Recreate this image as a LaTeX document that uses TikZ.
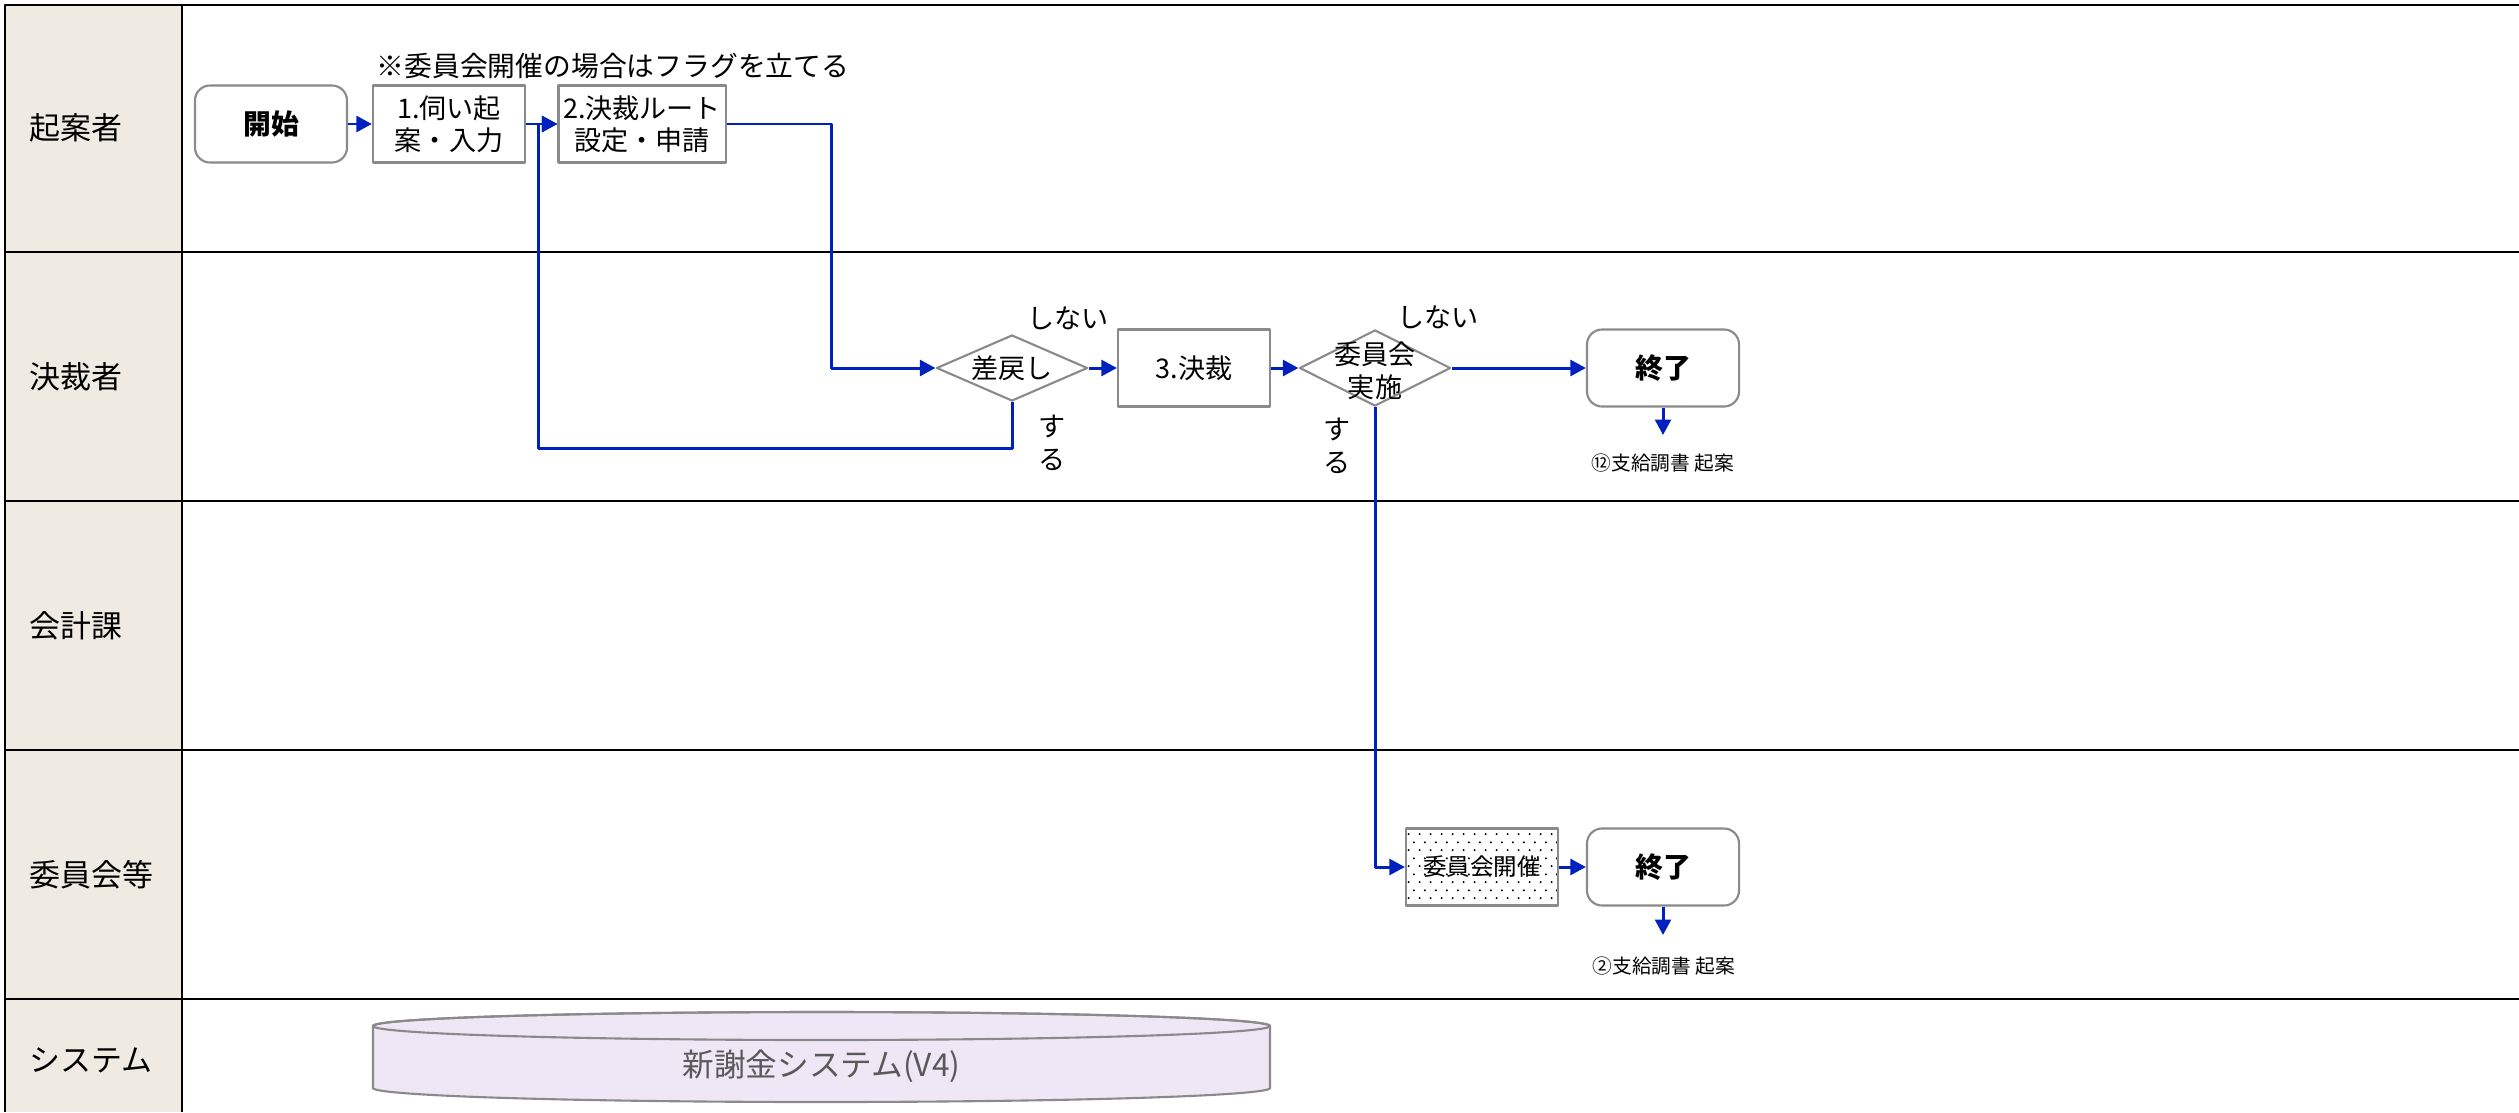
\documentclass[tikz,border=0pt]{standalone}
\usepackage{fontspec}
\newfontfamily\jp{Noto Sans CJK JP}
\usetikzlibrary{shapes.geometric,arrows.meta,patterns.meta}
\definecolor{flowblue}{HTML}{0020C0}
\definecolor{lanebg}{HTML}{EFEBE3}
\definecolor{boxgray}{HTML}{8A8A8A}
\definecolor{sysfill}{HTML}{EFE7F5}
\definecolor{systext}{HTML}{595959}
\tikzdeclarepattern{name=staggerdots, type=uncolored, bounding box={(0pt,0pt) and (3.2pt,4.6pt)}, tile size={(3.2pt,4.6pt)},
	code={\fill (0.8pt,1.15pt) circle (0.33pt); \fill (2.4pt,3.45pt) circle (0.33pt);}}
\tikzset{
	lane/.style={anchor=west, inner sep=0pt, font=\jp\fontsize{8.8}{10.5}\selectfont},
	laneline/.style={line width=0.75pt},
	task/.style={draw=boxgray, fill=white, line width=0.6pt, minimum width=1.52cm, minimum height=0.77cm, inner sep=0pt, align=center, font=\jp\fontsize{7.7}{9.2}\selectfont},
	term/.style={task, rounded corners=4.3pt, font=\jp\bfseries\fontsize{7.9}{9.4}\selectfont},
	decision/.style={draw=boxgray, fill=white, line width=0.6pt, diamond, inner sep=0pt, minimum width=1.51cm, minimum height=0.66cm},
	dectext/.style={inner sep=0pt, align=center, font=\jp\fontsize{7.7}{9.4}\selectfont},
	flow/.style={draw=flowblue, line width=0.85pt, ->},
	output/.style={inner sep=0pt, font=\jp\fontsize{5.6}{7}\selectfont},
}
\begin{document}
\begin{tikzpicture}[x=0.01cm, y=-0.01cm, font=\jp, line join=round, >={Triangle[length=4.4pt,width=4.5pt]}]
	\useasboundingbox (0,0) rectangle (2519,1112);
	% lanes
	\fill[lanebg] (5,5) rectangle (182,1112);
	\draw[laneline] (2519,5) -- (5,5) -- (5,1112);
	\draw[laneline] (182,5) -- (182,1112);
	\foreach \y in {252,501,750,999} \draw[laneline] (5,\y) -- (2519,\y);
	\foreach \n/\y/\t in {a/128/起案者, b/377/決裁者, c/626/会計課, d/875/委員会等, e/1060/システム}
		\node[lane] (lane\n) at (29,\y) {\t};
	% nodes
	\node[term] (start) at (271,124) {開始};
	\node[task] (task1) at (449,124) {1.伺い起\\案・入力};
	\node[task, minimum width=1.67cm] (task2) at (642,124) {2.決裁ルート\\設定・申請};
	\node[font=\jp\fontsize{7.9}{9.4}\selectfont] (flag) at (613,66) {※委員会開催の場合はフラグを立てる};
	\node[decision] (sendback) at (1012,368) {};
	\node[dectext] (sendbacktxt) at (sendback) {差戻し};
	\node[task] (decide) at (1194,368) {3.決裁};
	\node[decision, minimum height=0.76cm] (committee) at (1375,368) {};
	\node[dectext] (committeetxt) at (1375,371) {委員会\\実施};
	\node[term] (end1) at (1663,368) {終了};
	\node[output] (out1) at (1663,463) {⑫支給調書 起案};
	\node[task, pattern=staggerdots, font=\jp\fontsize{6.7}{8}\selectfont] (meeting) at (1482,867) {委員会開催};
	\node[term] (end2) at (1663,867) {終了};
	\node[output] (out2) at (1664,966) {②支給調書 起案};
	% branch labels
	\node[dectext] (no1) at (1068,318) {しない};
	\node[dectext] (yes1) at (1052,443) {す\\る};
	\node[dectext] (no2) at (1438,317) {しない};
	\node[dectext] (yes2) at (1337,446) {す\\る};
	% system
	\fill[sysfill, draw=boxgray, line width=0.6pt] (373,1026) -- (373,1088) arc[start angle=180, end angle=0, x radius=448.5, y radius=14] -- (1270,1026) arc[start angle=0, end angle=-180, x radius=448.5, y radius=14] -- cycle;
	\draw[boxgray, line width=0.6pt] (821.5,1026) ellipse [x radius=448.5, y radius=14];
	\node[systext, font=\jp\fontsize{9}{11}\selectfont] (system) at (821.5,1066) {新謝金システム(V4)};
	% flows
	\path
	(831,368) coordinate (turnA)
	(538,448) coordinate (turnB)
	(1663,435) coordinate (out1tip)
	(1663,935) coordinate (out2tip)
	;
	\draw[flow] (start) -- (task1);
	\draw[flow] (task1) -- (task2);
	\draw[flow] (task2.east) -| (turnA) -- (sendback.west);
	\draw[flow] (sendback.south) |- (turnB) |- (task2.west);
	\draw[flow] (sendback) -- (decide);
	\draw[flow] (decide) -- (committee);
	\draw[flow] (committee) -- (end1);
	\draw[flow] (committee.south) |- (meeting.west);
	\draw[flow] (meeting) -- (end2);
	\draw[flow] (end1.south) -- (out1tip);
	\draw[flow] (end2.south) -- (out2tip);
\end{tikzpicture}
\end{document}
